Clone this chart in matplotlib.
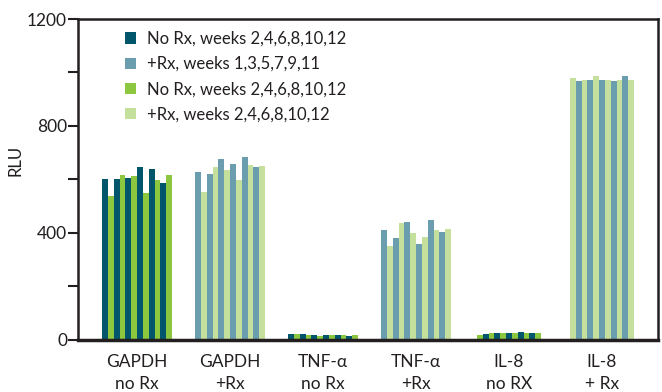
import matplotlib
matplotlib.use("Agg")
import matplotlib.pyplot as plt
from matplotlib.patches import Patch
import numpy as np

plt.rcParams['font.family'] = ['Lato', 'DejaVu Sans']

# bar heights per group, in drawing order (left to right)
categories = ['GAPDH\nno Rx', 'GAPDH\n+Rx', 'TNF-α\nno Rx', 'TNF-α\n+Rx', 'IL-8\nno RX', 'IL-8\n+ Rx']
gapdh_norx = [602, 538, 602, 617, 606, 613, 647, 550, 639, 598, 587, 617]
gapdh_rx = [628, 553, 621, 647, 677, 636, 658, 598, 684, 654, 647, 650]
tnf_norx = [22, 22, 22, 19, 19, 15, 19, 19, 19, 19, 15, 19]
tnf_rx = [411, 351, 381, 437, 441, 400, 359, 385, 449, 411, 404, 415]
il8_norx = [19, 22, 26, 26, 26, 26, 26, 30, 26, 26, 26]
il8_rx = [979, 968, 972, 972, 987, 972, 972, 968, 972, 987, 972]

legend_labels = ['No Rx, weeks 2,4,6,8,10,12', '+Rx, weeks 1,3,5,7,9,11',
                 'No Rx, weeks 2,4,6,8,10,12', '+Rx, weeks 2,4,6,8,10,12']

teal = '#01566b'
steel = '#6a9dae'
green = '#8dc63f'
light = '#c5df9c'
ink = '#231f20'

groups = [gapdh_norx, gapdh_rx, tnf_norx, tnf_rx, il8_norx, il8_rx]
pairs = [(teal, green), (steel, light), (teal, green), (steel, light), (green, teal), (light, steel)]

fig = plt.figure(figsize=(6.62, 3.92), dpi=100)
ax = fig.add_axes([0.118, 0.133, 0.876, 0.8185])

w = 0.0627
for gi, (vals, (c1, c2)) in enumerate(zip(groups, pairs)):
    n = len(vals)
    xs = gi + (np.arange(n) - (n - 1) / 2) * w
    cols = [c1 if i % 2 == 0 else c2 for i in range(n)]
    ax.bar(xs, vals, width=w, color=cols, linewidth=0)

ax.set_xlim(-0.634, 5.602)
ax.set_ylim(0, 1200)
ax.set_yticks(np.arange(0, 1201, 200))
ax.set_yticklabels(['0', '', '400', '', '800', '', '1200'])
ax.set_xticks(range(len(categories)))
ax.set_xticklabels(categories, linespacing=1.45)
ax.tick_params(axis='x', length=0, pad=10, labelsize=12.5, colors=ink)
ax.tick_params(axis='y', length=7, width=1.5, pad=1, labelsize=12.5, colors=ink, direction='out')
ax.set_ylabel('RLU', fontsize=12, color=ink)
ax.yaxis.set_label_coords(-0.095, 0.56)

for s in ax.spines.values():
    s.set_linewidth(1.8)
    s.set_color(ink)
ax.spines['bottom'].set_linewidth(2.5)

handles = [Patch(facecolor=c, edgecolor='none') for c in [teal, steel, green, light]]
ax.legend(handles, legend_labels, loc='upper left', bbox_to_anchor=(0.055, 1.01), frameon=False,
          handlelength=0.65, handleheight=0.65, handletextpad=0.65, labelspacing=0.55,
          fontsize=12, labelcolor=ink)

fig.savefig('out.png', dpi=100)
